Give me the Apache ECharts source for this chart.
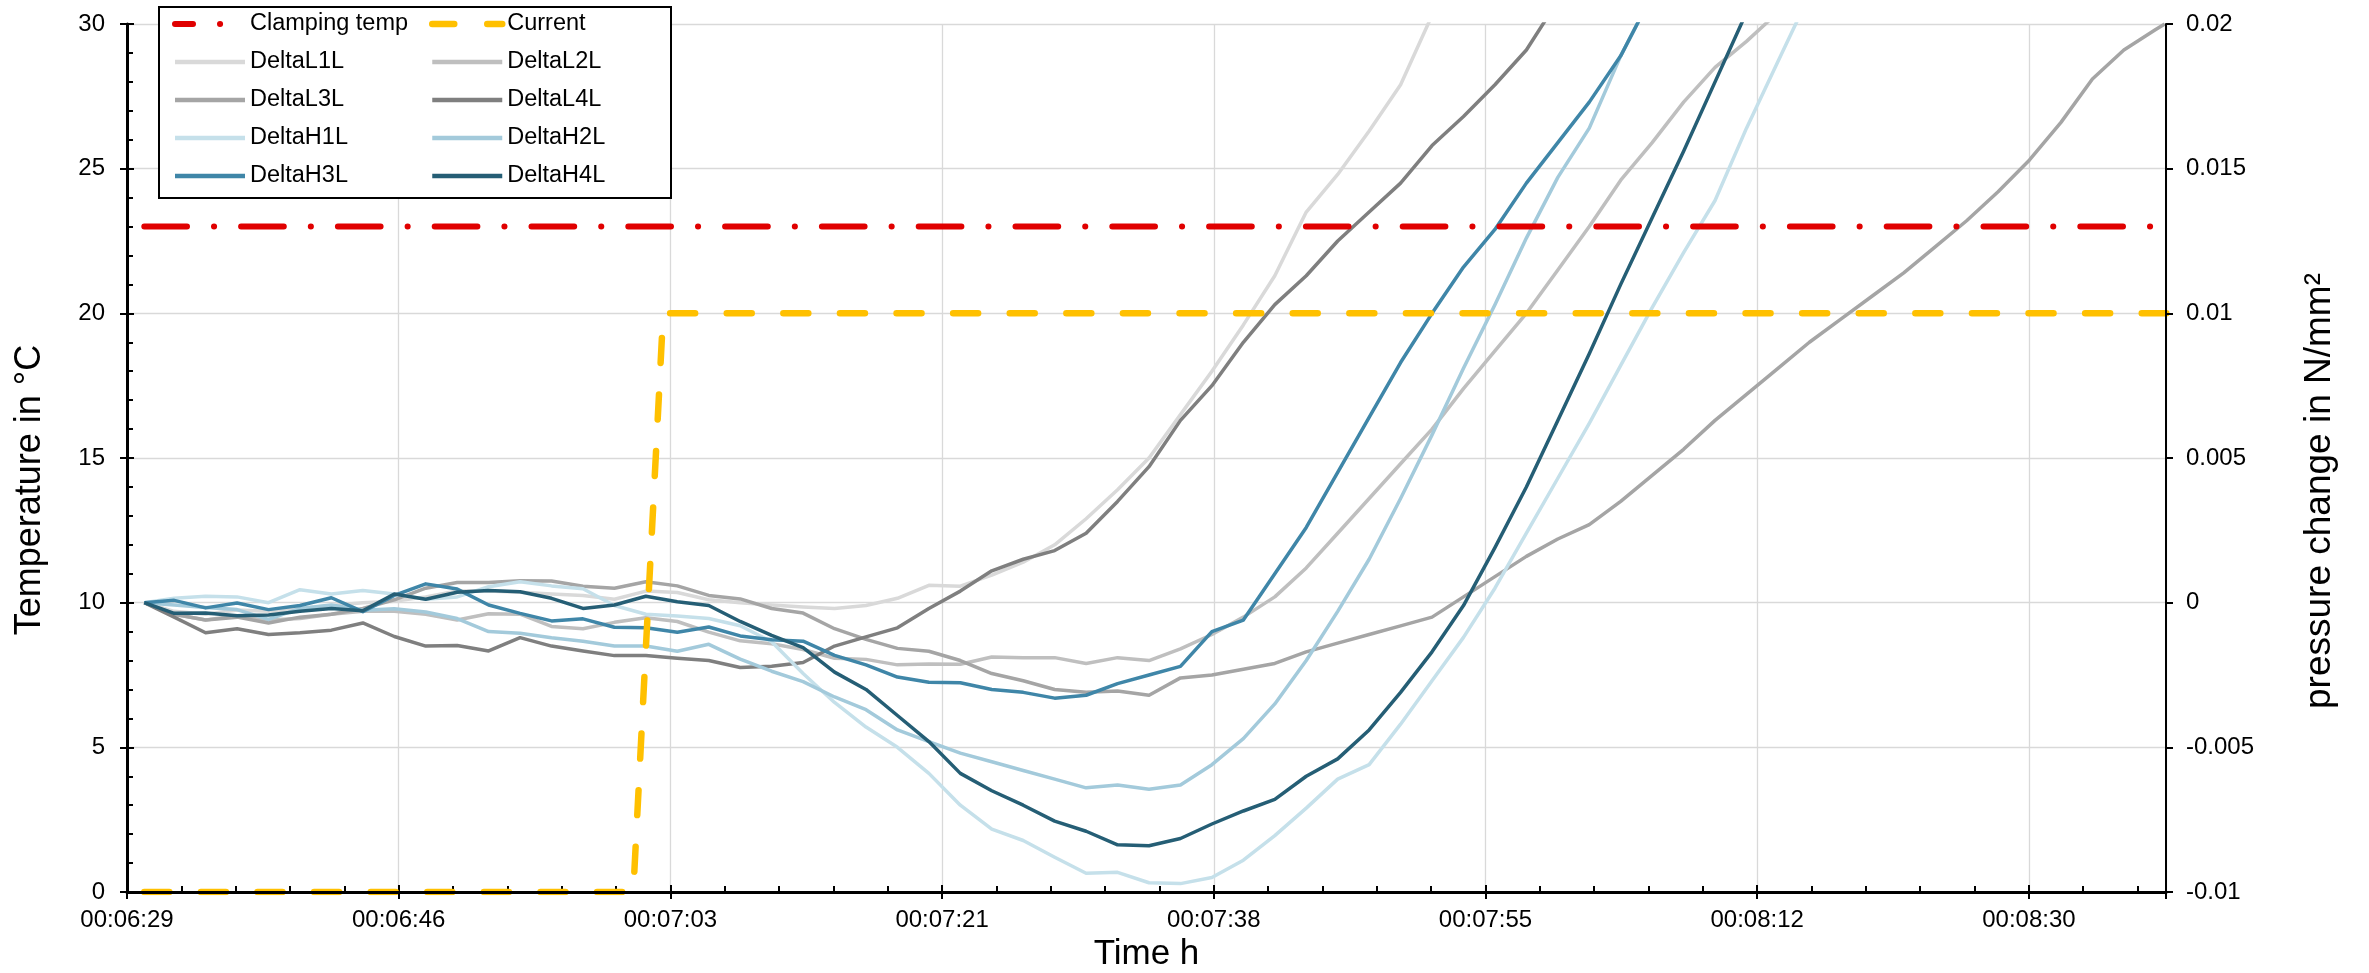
<!DOCTYPE html>
<html>
<head>
<meta charset="utf-8">
<script src="https://cdn.jsdelivr.net/npm/echarts@6/dist/echarts.min.js"></script>
<style>
html,body{margin:0;padding:0;background:#ffffff;}
#chart{width:2369px;height:973px;}
</style>
</head>
<body>
<div id="chart"></div>
<script>
// ---- data (time in seconds after 00:06:29.25) ----
const startSeconds = 389.25;
const xInterval = 17.28;
const xMax = 129.68;

const times = [1.1,3,5,7,9,11,13,15,17,19,21,23,25,27,29,31,33,35,37,39,41,43,45,47,49,51,53,55,57,59,61,63,65,67,69,71,73,75,77,79,81,83,85,87,89,91,93,95,97,99,101,103,105,107,109,111,113,115,117,119,121,123,125,127,129,129.6];

const clampTimes = [1.1, 129.7];
const clampValues = [23, 23];              // °C
const currentTimes = [1.1, 32.2, 34.1, 129.7];
const currentValues = [0, 0, 20, 20];       // plotted on left axis

// pressure change in N/mm² (right axis)
const deltaL1L = [0,-0.0003,-0.0004,-0.00025,-0.0003,-0.0002,-0.0001,0,0.00005,0.0002,0.0004,0.0004,0.00036,0.0003,0.00025,0.00012,0.0004,0.00035,0.0001,0,-0.00008,-0.00015,-0.0002,-0.0001,0.00015,0.0006,0.00057,0.00095,0.0014,0.002,0.0029,0.0039,0.005,0.0065,0.008,0.0096,0.0113,0.0135,0.0148,0.0163,0.0179,0.0203];
const deltaL2L = [0,-0.0004,-0.0006,-0.00045,-0.0006,-0.00055,-0.0004,-0.0003,-0.0003,-0.0004,-0.0006,-0.00038,-0.0004,-0.00082,-0.0009,-0.00068,-0.00052,-0.00065,-0.00102,-0.00132,-0.00142,-0.00162,-0.00192,-0.00196,-0.00215,-0.00212,-0.00213,-0.00188,-0.0019,-0.0019,-0.0021,-0.0019,-0.002,-0.0016,-0.0011,-0.0005,0.0002,0.0012,0.0024,0.0036,0.0048,0.006,0.0074,0.0087,0.01,0.0115,0.013,0.0146,0.0159,0.0173,0.0185,0.0194,0.0204];
const deltaL3L = [0,-0.0004,-0.0006,-0.0005,-0.0007,-0.0005,-0.0004,-0.0002,0.0001,0.0005,0.0007,0.0007,0.00076,0.00075,0.00057,0.0005,0.00072,0.00058,0.00025,0.00013,-0.0002,-0.00036,-0.0009,-0.00127,-0.00158,-0.00168,-0.002,-0.00245,-0.0027,-0.003,-0.0031,-0.00305,-0.0032,-0.0026,-0.0025,-0.0023,-0.0021,-0.0017,-0.0014,-0.0011,-0.0008,-0.0005,0.0002,0.0009,0.0016,0.0022,0.0027,0.0035,0.0044,0.0053,0.0063,0.0072,0.0081,0.009,0.0098,0.0106,0.0114,0.0123,0.0132,0.0142,0.0153,0.0166,0.0181,0.0191,0.0198,0.02];
const deltaL4L = [0,-0.0005,-0.00104,-0.0009,-0.0011,-0.00104,-0.00095,-0.0007,-0.00117,-0.0015,-0.00148,-0.00167,-0.00121,-0.0015,-0.00167,-0.00183,-0.00183,-0.00192,-0.002,-0.00224,-0.0022,-0.00207,-0.0015,-0.00118,-0.00087,-0.0002,0.0004,0.0011,0.0015,0.0018,0.0024,0.0035,0.0047,0.0063,0.0075,0.009,0.0103,0.0113,0.0125,0.0135,0.0145,0.0158,0.0168,0.0179,0.0191,0.0208];
const deltaH1L = [0,0.00015,0.00022,0.0002,0,0.00045,0.0003,0.00042,0.0003,0.00012,0.0002,0.00055,0.00072,0.00058,0.00048,-0.0001,-0.0004,-0.00046,-0.00055,-0.0008,-0.00135,-0.00245,-0.00345,-0.0043,-0.005,-0.0059,-0.007,-0.00783,-0.00822,-0.0088,-0.00935,-0.00932,-0.00968,-0.00971,-0.0095,-0.0089,-0.00805,-0.0071,-0.0061,-0.0056,-0.0042,-0.0027,-0.0012,0.0005,0.0024,0.0043,0.0062,0.0082,0.0102,0.0121,0.0139,0.0164,0.0187,0.021];
const deltaH2L = [0,-0.00008,-0.00017,-0.00024,-0.00058,-0.0002,-0.00008,-0.00026,-0.00021,-0.00032,-0.00055,-0.001,-0.00106,-0.00121,-0.00133,-0.0015,-0.0015,-0.00168,-0.00144,-0.00195,-0.00237,-0.00273,-0.00326,-0.0037,-0.0044,-0.0048,-0.0052,-0.0055,-0.0058,-0.0061,-0.0064,-0.0063,-0.00645,-0.0063,-0.0056,-0.0047,-0.0035,-0.002,-0.0003,0.0015,0.0036,0.0058,0.0081,0.0103,0.0126,0.0147,0.0164,0.0189,0.021];
const deltaH3L = [0,0.00008,-0.00018,-0.00001,-0.00024,-0.0001,0.00017,-0.00031,0.00025,0.00065,0.00047,-0.00008,-0.00037,-0.00063,-0.00056,-0.00085,-0.00087,-0.00102,-0.00084,-0.00115,-0.00128,-0.00133,-0.00182,-0.00215,-0.00257,-0.00275,-0.00277,-0.003,-0.0031,-0.0033,-0.0032,-0.0028,-0.0025,-0.0022,-0.001,-0.0006,0.001,0.0026,0.0045,0.0064,0.0083,0.01,0.0116,0.0129,0.0145,0.0159,0.0173,0.0189,0.021];
const deltaH4L = [0,-0.00037,-0.00036,-0.00045,-0.00043,-0.0003,-0.0002,-0.00028,0.0003,0.00012,0.00036,0.00042,0.00038,0.00015,-0.0002,-0.00008,0.00022,0.00003,-0.0001,-0.00065,-0.00113,-0.00155,-0.0024,-0.003,-0.0039,-0.0048,-0.0059,-0.0065,-0.007,-0.00755,-0.0079,-0.00837,-0.0084,-0.00815,-0.00765,-0.0072,-0.0068,-0.006,-0.0054,-0.0044,-0.0031,-0.0017,-0.0001,0.0019,0.004,0.0063,0.0086,0.011,0.0133,0.0156,0.018,0.0204];

const deltaNames = ['DeltaL1L','DeltaL2L','DeltaL3L','DeltaL4L','DeltaH1L','DeltaH2L','DeltaH3L','DeltaH4L'];
const deltaValues = [deltaL1L,deltaL2L,deltaL3L,deltaL4L,deltaH1L,deltaH2L,deltaH3L,deltaH4L];
const deltaColors = ['#d9d9d9','#bfbfbf','#a5a5a5','#7f7f7f','#c5e0ea','#a3cadb','#3f86a8','#255e75'];

const leftTitle = 'Temperature in °C';
const rightTitle = 'pressure change in N/mm²';
const xTitle = 'Time h';

// ---- chart ----
const FONT = "'Liberation Sans', Arial, Helvetica, sans-serif";
function pad(n){ return (n < 10 ? '0' : '') + n; }
function fmtTime(v){
  const s = Math.floor(startSeconds + v + 1e-6);
  return pad(Math.floor(s/3600)) + ':' + pad(Math.floor((s%3600)/60)) + ':' + pad(s%60);
}
function pairs(ts, vs){ return vs.map((v,i) => [ts[i], v]); }

const series = [
  {
    name:'Clamping temp', type:'line', yAxisIndex:0, symbol:'none', z:4,
    data: pairs(clampTimes, clampValues),
    lineStyle:{color:'#e00000', width:6, type:[42.7,27,0.1,27], cap:'round'},
    itemStyle:{color:'#e00000'}
  },
  {
    name:'Current', type:'line', yAxisIndex:0, symbol:'none', z:4,
    data: pairs(currentTimes, currentValues),
    lineStyle:{color:'#ffc000', width:6.5, type:[25,31.6], cap:'round'},
    itemStyle:{color:'#ffc000'}
  }
];
deltaNames.forEach((n,i) => {
  series.push({
    name:n, type:'line', yAxisIndex:1, symbol:'none', z:3,
    data: pairs(times, deltaValues[i]),
    lineStyle:{color:deltaColors[i], width:3.5, join:'round'},
    itemStyle:{color:deltaColors[i]}
  });
});

const hiddenSymbol = {color:'rgba(0,0,0,0)', opacity:0, borderWidth:0};
function legendItem(name, color, ls){
  return {name:name, lineStyle: ls || {color:color, width:4.5, type:'solid'}, itemStyle:hiddenSymbol};
}
const legendBase = {
  orient:'vertical', top:12, padding:0, itemWidth:70, itemHeight:14, itemGap:14,
  selectedMode:false, itemStyle:hiddenSymbol,
  textStyle:{fontSize:23.5, color:'#000', fontFamily:FONT}
};

const axisTextStyle = {fontSize:24, color:'#000', fontFamily:FONT};
const nameStyle = {fontSize:35, color:'#000', fontFamily:FONT};

const option = {
  animation:false,
  backgroundColor:'#ffffff',
  grid:{left:127, right:203, top:24, bottom:81, containLabel:false, outerBoundsMode:'none'},
  graphic:[
    {type:'rect', left:158, top:6, z:5, shape:{width:512, height:191},
     style:{fill:'#ffffff', stroke:'#000000', lineWidth:2}},
    {type:'text', x:30, y:490, rotation:Math.PI/2, z:5,
     style:{text:leftTitle, fontSize:36, fontFamily:FONT, fill:'#000', align:'center', verticalAlign:'middle', textAlign:'center', textVerticalAlign:'middle'}},
    {type:'text', x:2320, y:491, rotation:Math.PI/2, z:5,
     style:{text:rightTitle, fontSize:37, fontFamily:FONT, fill:'#000', align:'center', verticalAlign:'middle', textAlign:'center', textVerticalAlign:'middle'}}
  ],
  legend:[
    Object.assign({}, legendBase, {left:172, z:6, data:[
      legendItem('Clamping temp','#e00000',{color:'#e00000', width:6, type:[18,27,0.1,40], cap:'round'}),
      legendItem('DeltaL1L','#d9d9d9'), legendItem('DeltaL3L','#a5a5a5'),
      legendItem('DeltaH1L','#c5e0ea'), legendItem('DeltaH3L','#3f86a8')]}),
    Object.assign({}, legendBase, {left:429, z:6, data:[
      legendItem('Current','#ffc000',{color:'#ffc000', width:6.5, type:[22,33], cap:'round'}),
      legendItem('DeltaL2L','#bfbfbf'), legendItem('DeltaL4L','#7f7f7f'),
      legendItem('DeltaH2L','#a3cadb'), legendItem('DeltaH4L','#255e75')]})
  ],
  xAxis:[
    {
      type:'value', position:'bottom', min:0, max:xMax, interval:xInterval,
      name:xTitle, nameLocation:'middle', nameGap:44, nameTextStyle:nameStyle,
      axisLine:{show:false, onZero:false},
      axisTick:{show:true, inside:true, length:7, lineStyle:{color:'#000', width:2}},
      minorTick:{show:true, splitNumber:5, length:6, lineStyle:{color:'#000', width:2}},
      splitLine:{show:true, lineStyle:{color:'#d9d9d9', width:1.3}},
      axisLabel:{margin:16, showMaxLabel:false, formatter:fmtTime, ...axisTextStyle}
    },
    {
      type:'value', position:'bottom', min:0, max:xMax, interval:xInterval, z:6,
      axisLine:{show:true, onZero:false, lineStyle:{color:'#000', width:3}},
      axisTick:{show:true, inside:false, length:7, lineStyle:{color:'#000', width:2}},
      splitLine:{show:false}, axisLabel:{show:false}
    }
  ],
  yAxis:[
    {
      type:'value', position:'left', min:0, max:30, interval:5,
      axisLine:{show:false, onZero:false},
      axisTick:{show:true, inside:true, length:7, lineStyle:{color:'#000', width:2}},
      minorTick:{show:true, splitNumber:5, length:6, lineStyle:{color:'#000', width:2}},
      splitLine:{show:true, lineStyle:{color:'#d9d9d9', width:1.3}},
      axisLabel:{margin:22, ...axisTextStyle}
    },
    {
      type:'value', position:'right', min:-0.01, max:0.02, interval:0.005, z:6,
      axisLine:{show:true, onZero:false, lineStyle:{color:'#000', width:2}},
      axisTick:{show:true, inside:false, length:7, lineStyle:{color:'#000', width:2}},
      splitLine:{show:false},
      axisLabel:{margin:20, formatter:v => String(+v.toFixed(3)), ...axisTextStyle}
    },
    {
      type:'value', position:'left', min:0, max:30, interval:5, z:6,
      axisLine:{show:true, onZero:false, lineStyle:{color:'#000', width:3}},
      axisTick:{show:true, inside:false, length:7, lineStyle:{color:'#000', width:2}},
      splitLine:{show:false}, axisLabel:{show:false}
    }
  ],
  series:series
};

const chart = echarts.init(document.getElementById('chart'), null, {renderer:'canvas', width:2369, height:973});
chart.setOption(option);
</script>
</body>
</html>
